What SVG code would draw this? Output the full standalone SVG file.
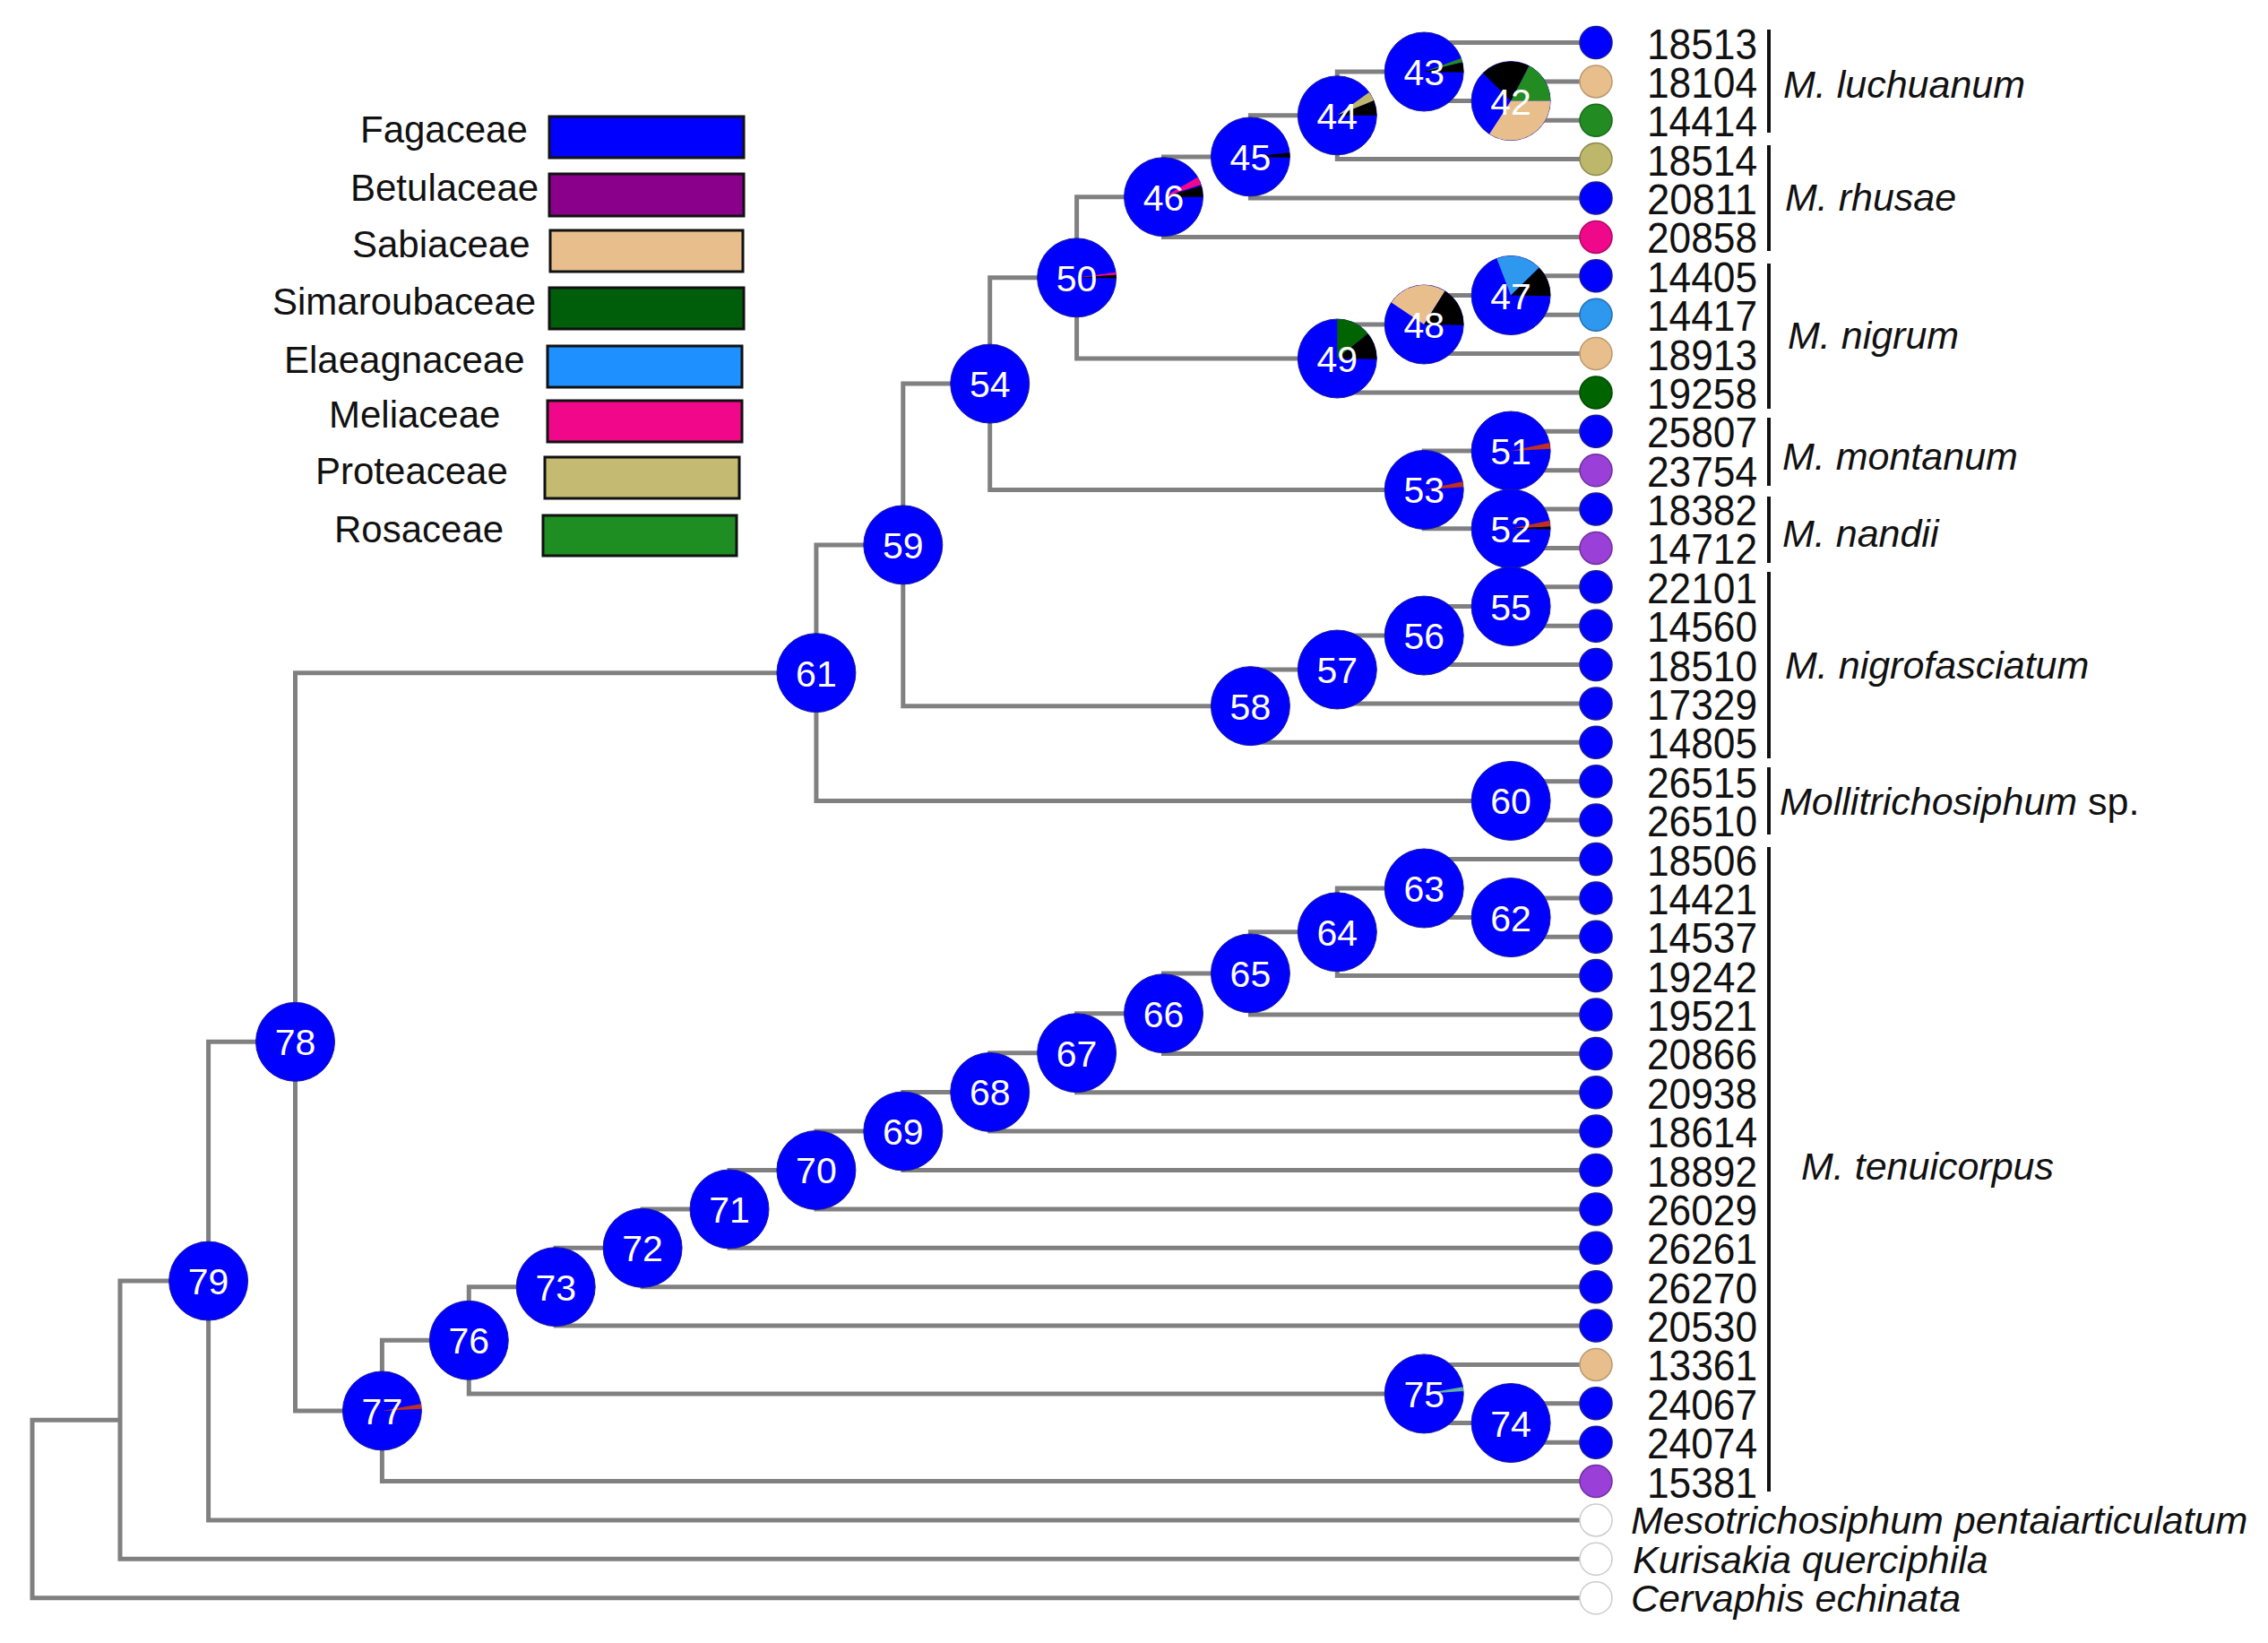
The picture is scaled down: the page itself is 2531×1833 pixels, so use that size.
<svg xmlns="http://www.w3.org/2000/svg" width="2531" height="1833" viewBox="0 0 2531 1833">
<style>
.br{fill:none;stroke:#808080;stroke-width:5;stroke-linejoin:miter}
.nd{fill:#0000FF;stroke:#1a1a9a;stroke-width:1}
.nl{font-family:"Liberation Sans",Arial,sans-serif;font-size:41px;fill:#ffffff;text-anchor:middle}
.tl{font-family:"Liberation Sans",Arial,sans-serif;font-size:48px;fill:#111111}
.sp{font-family:"Liberation Sans",Arial,sans-serif;font-size:43px;font-style:italic;fill:#111111}
.up{font-style:normal}
.lgt{font-family:"Liberation Sans",Arial,sans-serif;font-size:42px;fill:#111111}
.lgb{stroke:#111111;stroke-width:3}
.bar{stroke:#111111;stroke-width:4}
.lf{stroke-width:1.5}
.cB{fill:#0000FF;stroke:#1a1a9a}
.cT{fill:#E8BE8C;stroke:#b89a70}
.cG{fill:#228B22;stroke:#1a6a1a}
.cK{fill:#BDB76B;stroke:#8f8a50}
.cP{fill:#F0088A;stroke:#b00868}
.cL{fill:#2E97EE;stroke:#2070b0}
.cD{fill:#006400;stroke:#004a00}
.cV{fill:#9A3FD8;stroke:#7030a0}
.cW{fill:#ffffff;stroke:#cccccc}
</style>

<g id="legend">
<rect class="lgb" x="613" y="130" width="217" height="46" fill="#0000FF"/>
<text class="lgt" x="402" y="159">Fagaceae</text>
<rect class="lgb" x="613" y="194" width="217" height="47" fill="#8B008B"/>
<text class="lgt" x="391" y="224">Betulaceae</text>
<rect class="lgb" x="614" y="257" width="215" height="46" fill="#E8BF8C"/>
<text class="lgt" x="393" y="287">Sabiaceae</text>
<rect class="lgb" x="613" y="321" width="217" height="46" fill="#005E0A"/>
<text class="lgt" x="304" y="351">Simaroubaceae</text>
<rect class="lgb" x="611" y="386" width="217" height="46" fill="#1E90FF"/>
<text class="lgt" x="317" y="416">Elaeagnaceae</text>
<rect class="lgb" x="611" y="447" width="217" height="46" fill="#F0078A"/>
<text class="lgt" x="367" y="477">Meliaceae</text>
<rect class="lgb" x="608" y="510" width="217" height="46" fill="#C4BA72"/>
<text class="lgt" x="352" y="540">Proteaceae</text>
<rect class="lgb" x="606" y="575" width="216" height="45" fill="#1F8E22"/>
<text class="lgt" x="373" y="605">Rosaceae</text>
</g>

<g id="connectors">
<path class="br" d="M1781 90.9 H1686.1 V134.3 H1781"/>
<path class="br" d="M1781 47.5 H1589.2 V112.6 H1686.1"/>
<path class="br" d="M1589.2 80.0 H1492.3 V177.6 H1781"/>
<path class="br" d="M1492.3 128.8 H1395.4 V221.0 H1781"/>
<path class="br" d="M1395.4 174.9 H1298.5 V264.4 H1781"/>
<path class="br" d="M1781 307.8 H1686.1 V351.2 H1781"/>
<path class="br" d="M1686.1 329.5 H1589.2 V394.5 H1781"/>
<path class="br" d="M1589.2 362.0 H1492.3 V437.9 H1781"/>
<path class="br" d="M1298.5 219.7 H1201.6 V400.0 H1492.3"/>
<path class="br" d="M1781 481.3 H1686.1 V524.7 H1781"/>
<path class="br" d="M1781 568.1 H1686.1 V611.4 H1781"/>
<path class="br" d="M1686.1 503.0 H1589.2 V589.8 H1686.1"/>
<path class="br" d="M1201.6 309.85 H1104.7 V546.4 H1589.2"/>
<path class="br" d="M1781 654.8 H1686.1 V698.2 H1781"/>
<path class="br" d="M1686.1 676.5 H1589.2 V741.6 H1781"/>
<path class="br" d="M1589.2 709.05 H1492.3 V785.0 H1781"/>
<path class="br" d="M1492.3 747.0 H1395.4 V828.3 H1781"/>
<path class="br" d="M1104.7 428.1 H1007.8 V787.65 H1395.4"/>
<path class="br" d="M1781 871.7 H1686.1 V915.1 H1781"/>
<path class="br" d="M1007.8 607.9 H910.9 V893.4 H1686.1"/>
<path class="br" d="M1781 1001.9 H1686.1 V1045.2 H1781"/>
<path class="br" d="M1781 958.5 H1589.2 V1023.55 H1686.1"/>
<path class="br" d="M1589.2 991.0 H1492.3 V1088.6 H1781"/>
<path class="br" d="M1492.3 1039.8 H1395.4 V1132.0 H1781"/>
<path class="br" d="M1395.4 1085.9 H1298.5 V1175.4 H1781"/>
<path class="br" d="M1298.5 1130.65 H1201.6 V1218.8 H1781"/>
<path class="br" d="M1201.6 1174.7 H1104.7 V1262.1 H1781"/>
<path class="br" d="M1104.7 1218.4 H1007.8 V1305.5 H1781"/>
<path class="br" d="M1007.8 1262.0 H910.9 V1348.9 H1781"/>
<path class="br" d="M910.9 1305.45 H814.0 V1392.3 H1781"/>
<path class="br" d="M814.0 1348.9 H717.1 V1435.7 H1781"/>
<path class="br" d="M717.1 1392.3 H620.2 V1479.0 H1781"/>
<path class="br" d="M1781 1565.8 H1686.1 V1609.2 H1781"/>
<path class="br" d="M1781 1522.4 H1589.2 V1587.5 H1686.1"/>
<path class="br" d="M620.2 1435.65 H523.3 V1554.95 H1589.2"/>
<path class="br" d="M523.3 1495.3 H426.4 V1652.6 H1781"/>
<path class="br" d="M910.9 750.65 H329.5 V1573.95 H426.4"/>
<path class="br" d="M329.5 1162.3 H232.6 V1695.9 H1781"/>
<path class="br" d="M232.6 1429.1 H134 V1739.3 H1781"/>
<path class="br" d="M134 1584.2 H36 V1782.7 H1781"/>
</g>

<g id="internal-nodes">
<g id="n42"><circle cx="1686.1" cy="112.6" r="44" class="nd"/>
<path d="M1686.1 112.6 L1655.0 81.5 A44 44 0 0 1 1706.4 73.6 Z" fill="#000"/>
<path d="M1686.1 112.6 L1706.4 73.6 A44 44 0 0 1 1730.1 112.6 Z" fill="#228B22"/>
<path d="M1686.1 112.6 L1730.1 112.6 A44 44 0 0 1 1662.1 149.5 Z" fill="#E8BE8C"/>
<text class="nl" x="1686.1" y="127.6">42</text></g>
<g id="n43"><circle cx="1589.2" cy="80.0" r="44" class="nd"/>
<path d="M1589.2 80.0 L1630.5 65.0 A44 44 0 0 1 1631.9 69.4 Z" fill="#228B22"/>
<path d="M1589.2 80.0 L1631.9 69.4 A44 44 0 0 1 1633.2 80.8 Z" fill="#000"/>
<text class="nl" x="1589.2" y="95.0">43</text></g>
<g id="n44"><circle cx="1492.3" cy="128.8" r="44" class="nd"/>
<path d="M1492.3 128.8 L1527.9 102.9 A44 44 0 0 1 1533.1 112.3 Z" fill="#BDB76B"/>
<path d="M1492.3 128.8 L1533.1 112.3 A44 44 0 0 1 1536.3 128.8 Z" fill="#000"/>
<text class="nl" x="1492.3" y="143.8">44</text></g>
<g id="n45"><circle cx="1395.4" cy="174.9" r="44" class="nd"/>
<path d="M1395.4 174.9 L1439.2 170.3 A44 44 0 0 1 1439.4 175.7 Z" fill="#000"/>
<text class="nl" x="1395.4" y="189.9">45</text></g>
<g id="n46"><circle cx="1298.5" cy="219.7" r="44" class="nd"/>
<path d="M1298.5 219.7 L1336.6 197.7 A44 44 0 0 1 1340.3 206.1 Z" fill="#F0088A"/>
<path d="M1298.5 219.7 L1340.8 207.6 A44 44 0 0 1 1342.5 219.7 Z" fill="#000"/>
<text class="nl" x="1298.5" y="234.7">46</text></g>
<g id="n47"><circle cx="1686.1" cy="329.5" r="44" class="nd"/>
<path d="M1686.1 329.5 L1670.3 288.4 A44 44 0 0 1 1717.5 298.7 Z" fill="#2E97EE"/>
<path d="M1686.1 329.5 L1717.5 298.7 A44 44 0 0 1 1730.1 330.3 Z" fill="#000"/>
<text class="nl" x="1686.1" y="344.5">47</text></g>
<g id="n48"><circle cx="1589.2" cy="362.0" r="44" class="nd"/>
<path d="M1589.2 362.0 L1552.7 337.4 A44 44 0 0 1 1612.5 324.7 Z" fill="#E8BE8C"/>
<path d="M1589.2 362.0 L1612.5 324.7 A44 44 0 0 1 1633.2 362.8 Z" fill="#000"/>
<text class="nl" x="1589.2" y="377.0">48</text></g>
<g id="n49"><circle cx="1492.3" cy="400.0" r="44" class="nd"/>
<path d="M1492.3 400.0 L1492.3 356.0 A44 44 0 0 1 1526.5 372.3 Z" fill="#006400"/>
<path d="M1492.3 400.0 L1526.5 372.3 A44 44 0 0 1 1536.3 400.8 Z" fill="#000"/>
<text class="nl" x="1492.3" y="415.0">49</text></g>
<g id="n50"><circle cx="1201.6" cy="309.85" r="44" class="nd"/>
<path d="M1201.6 309.85 L1245.2 303.7 A44 44 0 0 1 1245.5 306.8 Z" fill="#F0088A"/>
<path d="M1201.6 309.85 L1245.5 306.8 A44 44 0 0 1 1245.6 310.6 Z" fill="#000"/>
<text class="nl" x="1201.6" y="324.85">50</text></g>
<g id="n51"><circle cx="1686.1" cy="503.0" r="44" class="nd"/>
<path d="M1686.1 503.0 L1729.1 493.9 A44 44 0 0 1 1730.0 500.7 Z" fill="#C03020"/>
<text class="nl" x="1686.1" y="518.0">51</text></g>
<g id="n53"><circle cx="1589.2" cy="546.4" r="44" class="nd"/>
<path d="M1589.2 546.4 L1632.2 537.3 A44 44 0 0 1 1633.1 543.3 Z" fill="#C03020"/>
<text class="nl" x="1589.2" y="561.4">53</text></g>
<g id="n52"><circle cx="1686.1" cy="589.8" r="44" class="nd"/>
<path d="M1686.1 589.8 L1729.1 580.7 A44 44 0 0 1 1730.0 587.5 Z" fill="#C03020"/>
<path d="M1686.1 589.8 L1730.0 587.5 A44 44 0 0 1 1730.1 590.6 Z" fill="#000"/>
<text class="nl" x="1686.1" y="604.8">52</text></g>
<g id="n54"><circle cx="1104.7" cy="428.1" r="44" class="nd"/><text class="nl" x="1104.7" y="443.1">54</text></g>
<g id="n55"><circle cx="1686.1" cy="676.5" r="44" class="nd"/><text class="nl" x="1686.1" y="691.5">55</text></g>
<g id="n56"><circle cx="1589.2" cy="709.05" r="44" class="nd"/><text class="nl" x="1589.2" y="724.05">56</text></g>
<g id="n57"><circle cx="1492.3" cy="747.0" r="44" class="nd"/><text class="nl" x="1492.3" y="762.0">57</text></g>
<g id="n58"><circle cx="1395.4" cy="787.65" r="44" class="nd"/><text class="nl" x="1395.4" y="802.65">58</text></g>
<g id="n59"><circle cx="1007.8" cy="607.9" r="44" class="nd"/><text class="nl" x="1007.8" y="622.9">59</text></g>
<g id="n60"><circle cx="1686.1" cy="893.4" r="44" class="nd"/><text class="nl" x="1686.1" y="908.4">60</text></g>
<g id="n61"><circle cx="910.9" cy="750.65" r="44" class="nd"/><text class="nl" x="910.9" y="765.65">61</text></g>
<g id="n62"><circle cx="1686.1" cy="1023.55" r="44" class="nd"/><text class="nl" x="1686.1" y="1038.55">62</text></g>
<g id="n63"><circle cx="1589.2" cy="991.0" r="44" class="nd"/><text class="nl" x="1589.2" y="1006.0">63</text></g>
<g id="n64"><circle cx="1492.3" cy="1039.8" r="44" class="nd"/><text class="nl" x="1492.3" y="1054.8">64</text></g>
<g id="n65"><circle cx="1395.4" cy="1085.9" r="44" class="nd"/><text class="nl" x="1395.4" y="1100.9">65</text></g>
<g id="n66"><circle cx="1298.5" cy="1130.65" r="44" class="nd"/><text class="nl" x="1298.5" y="1145.65">66</text></g>
<g id="n67"><circle cx="1201.6" cy="1174.7" r="44" class="nd"/><text class="nl" x="1201.6" y="1189.7">67</text></g>
<g id="n68"><circle cx="1104.7" cy="1218.4" r="44" class="nd"/><text class="nl" x="1104.7" y="1233.4">68</text></g>
<g id="n69"><circle cx="1007.8" cy="1262.0" r="44" class="nd"/><text class="nl" x="1007.8" y="1277.0">69</text></g>
<g id="n70"><circle cx="910.9" cy="1305.45" r="44" class="nd"/><text class="nl" x="910.9" y="1320.45">70</text></g>
<g id="n71"><circle cx="814.0" cy="1348.9" r="44" class="nd"/><text class="nl" x="814.0" y="1363.9">71</text></g>
<g id="n72"><circle cx="717.1" cy="1392.3" r="44" class="nd"/><text class="nl" x="717.1" y="1407.3">72</text></g>
<g id="n73"><circle cx="620.2" cy="1435.65" r="44" class="nd"/><text class="nl" x="620.2" y="1450.65">73</text></g>
<g id="n75"><circle cx="1589.2" cy="1554.95" r="44" class="nd"/>
<path d="M1589.2 1554.95 L1632.5 1547.3 A44 44 0 0 1 1633.1 1551.9 Z" fill="#5FB0A0"/>
<text class="nl" x="1589.2" y="1569.95">75</text></g>
<g id="n74"><circle cx="1686.1" cy="1587.5" r="44" class="nd"/><text class="nl" x="1686.1" y="1602.5">74</text></g>
<g id="n76"><circle cx="523.3" cy="1495.3" r="44" class="nd"/><text class="nl" x="523.3" y="1510.3">76</text></g>
<g id="n77"><circle cx="426.4" cy="1573.95" r="44" class="nd"/>
<path d="M426.4 1573.95 L469.7 1566.3 A44 44 0 0 1 470.3 1571.65 Z" fill="#C03020"/>
<text class="nl" x="426.4" y="1588.95">77</text></g>
<g id="n78"><circle cx="329.5" cy="1162.3" r="44" class="nd"/><text class="nl" x="329.5" y="1177.3">78</text></g>
<g id="n79"><circle cx="232.6" cy="1429.1" r="44" class="nd"/><text class="nl" x="232.6" y="1444.1">79</text></g>
</g>

<g id="leaves">
<g id="t18513"><circle class="lf cB" cx="1781" cy="47.5" r="18"/><text class="tl" x="1838" y="65.5" textLength="123" lengthAdjust="spacingAndGlyphs">18513</text></g>
<g id="t18104"><circle class="lf cT" cx="1781" cy="90.9" r="18"/><text class="tl" x="1838" y="108.9" textLength="123" lengthAdjust="spacingAndGlyphs">18104</text></g>
<g id="t14414"><circle class="lf cG" cx="1781" cy="134.3" r="18"/><text class="tl" x="1838" y="152.3" textLength="123" lengthAdjust="spacingAndGlyphs">14414</text></g>
<g id="t18514"><circle class="lf cK" cx="1781" cy="177.6" r="18"/><text class="tl" x="1838" y="195.6" textLength="123" lengthAdjust="spacingAndGlyphs">18514</text></g>
<g id="t20811"><circle class="lf cB" cx="1781" cy="221.0" r="18"/><text class="tl" x="1838" y="239.0" textLength="123" lengthAdjust="spacingAndGlyphs">20811</text></g>
<g id="t20858"><circle class="lf cP" cx="1781" cy="264.4" r="18"/><text class="tl" x="1838" y="282.4" textLength="123" lengthAdjust="spacingAndGlyphs">20858</text></g>
<g id="t14405"><circle class="lf cB" cx="1781" cy="307.8" r="18"/><text class="tl" x="1838" y="325.8" textLength="123" lengthAdjust="spacingAndGlyphs">14405</text></g>
<g id="t14417"><circle class="lf cL" cx="1781" cy="351.2" r="18"/><text class="tl" x="1838" y="369.2" textLength="123" lengthAdjust="spacingAndGlyphs">14417</text></g>
<g id="t18913"><circle class="lf cT" cx="1781" cy="394.5" r="18"/><text class="tl" x="1838" y="412.5" textLength="123" lengthAdjust="spacingAndGlyphs">18913</text></g>
<g id="t19258"><circle class="lf cD" cx="1781" cy="437.9" r="18"/><text class="tl" x="1838" y="455.9" textLength="123" lengthAdjust="spacingAndGlyphs">19258</text></g>
<g id="t25807"><circle class="lf cB" cx="1781" cy="481.3" r="18"/><text class="tl" x="1838" y="499.3" textLength="123" lengthAdjust="spacingAndGlyphs">25807</text></g>
<g id="t23754"><circle class="lf cV" cx="1781" cy="524.7" r="18"/><text class="tl" x="1838" y="542.7" textLength="123" lengthAdjust="spacingAndGlyphs">23754</text></g>
<g id="t18382"><circle class="lf cB" cx="1781" cy="568.1" r="18"/><text class="tl" x="1838" y="586.1" textLength="123" lengthAdjust="spacingAndGlyphs">18382</text></g>
<g id="t14712"><circle class="lf cV" cx="1781" cy="611.4" r="18"/><text class="tl" x="1838" y="629.4" textLength="123" lengthAdjust="spacingAndGlyphs">14712</text></g>
<g id="t22101"><circle class="lf cB" cx="1781" cy="654.8" r="18"/><text class="tl" x="1838" y="672.8" textLength="123" lengthAdjust="spacingAndGlyphs">22101</text></g>
<g id="t14560"><circle class="lf cB" cx="1781" cy="698.2" r="18"/><text class="tl" x="1838" y="716.2" textLength="123" lengthAdjust="spacingAndGlyphs">14560</text></g>
<g id="t18510"><circle class="lf cB" cx="1781" cy="741.6" r="18"/><text class="tl" x="1838" y="759.6" textLength="123" lengthAdjust="spacingAndGlyphs">18510</text></g>
<g id="t17329"><circle class="lf cB" cx="1781" cy="785.0" r="18"/><text class="tl" x="1838" y="803.0" textLength="123" lengthAdjust="spacingAndGlyphs">17329</text></g>
<g id="t14805"><circle class="lf cB" cx="1781" cy="828.3" r="18"/><text class="tl" x="1838" y="846.3" textLength="123" lengthAdjust="spacingAndGlyphs">14805</text></g>
<g id="t26515"><circle class="lf cB" cx="1781" cy="871.7" r="18"/><text class="tl" x="1838" y="889.7" textLength="123" lengthAdjust="spacingAndGlyphs">26515</text></g>
<g id="t26510"><circle class="lf cB" cx="1781" cy="915.1" r="18"/><text class="tl" x="1838" y="933.1" textLength="123" lengthAdjust="spacingAndGlyphs">26510</text></g>
<g id="t18506"><circle class="lf cB" cx="1781" cy="958.5" r="18"/><text class="tl" x="1838" y="976.5" textLength="123" lengthAdjust="spacingAndGlyphs">18506</text></g>
<g id="t14421"><circle class="lf cB" cx="1781" cy="1001.9" r="18"/><text class="tl" x="1838" y="1019.9" textLength="123" lengthAdjust="spacingAndGlyphs">14421</text></g>
<g id="t14537"><circle class="lf cB" cx="1781" cy="1045.2" r="18"/><text class="tl" x="1838" y="1063.2" textLength="123" lengthAdjust="spacingAndGlyphs">14537</text></g>
<g id="t19242"><circle class="lf cB" cx="1781" cy="1088.6" r="18"/><text class="tl" x="1838" y="1106.6" textLength="123" lengthAdjust="spacingAndGlyphs">19242</text></g>
<g id="t19521"><circle class="lf cB" cx="1781" cy="1132.0" r="18"/><text class="tl" x="1838" y="1150.0" textLength="123" lengthAdjust="spacingAndGlyphs">19521</text></g>
<g id="t20866"><circle class="lf cB" cx="1781" cy="1175.4" r="18"/><text class="tl" x="1838" y="1193.4" textLength="123" lengthAdjust="spacingAndGlyphs">20866</text></g>
<g id="t20938"><circle class="lf cB" cx="1781" cy="1218.8" r="18"/><text class="tl" x="1838" y="1236.8" textLength="123" lengthAdjust="spacingAndGlyphs">20938</text></g>
<g id="t18614"><circle class="lf cB" cx="1781" cy="1262.1" r="18"/><text class="tl" x="1838" y="1280.1" textLength="123" lengthAdjust="spacingAndGlyphs">18614</text></g>
<g id="t18892"><circle class="lf cB" cx="1781" cy="1305.5" r="18"/><text class="tl" x="1838" y="1323.5" textLength="123" lengthAdjust="spacingAndGlyphs">18892</text></g>
<g id="t26029"><circle class="lf cB" cx="1781" cy="1348.9" r="18"/><text class="tl" x="1838" y="1366.9" textLength="123" lengthAdjust="spacingAndGlyphs">26029</text></g>
<g id="t26261"><circle class="lf cB" cx="1781" cy="1392.3" r="18"/><text class="tl" x="1838" y="1410.3" textLength="123" lengthAdjust="spacingAndGlyphs">26261</text></g>
<g id="t26270"><circle class="lf cB" cx="1781" cy="1435.7" r="18"/><text class="tl" x="1838" y="1453.7" textLength="123" lengthAdjust="spacingAndGlyphs">26270</text></g>
<g id="t20530"><circle class="lf cB" cx="1781" cy="1479.0" r="18"/><text class="tl" x="1838" y="1497.0" textLength="123" lengthAdjust="spacingAndGlyphs">20530</text></g>
<g id="t13361"><circle class="lf cT" cx="1781" cy="1522.4" r="18"/><text class="tl" x="1838" y="1540.4" textLength="123" lengthAdjust="spacingAndGlyphs">13361</text></g>
<g id="t24067"><circle class="lf cB" cx="1781" cy="1565.8" r="18"/><text class="tl" x="1838" y="1583.8" textLength="123" lengthAdjust="spacingAndGlyphs">24067</text></g>
<g id="t24074"><circle class="lf cB" cx="1781" cy="1609.2" r="18"/><text class="tl" x="1838" y="1627.2" textLength="123" lengthAdjust="spacingAndGlyphs">24074</text></g>
<g id="t15381"><circle class="lf cV" cx="1781" cy="1652.6" r="18"/><text class="tl" x="1838" y="1670.6" textLength="123" lengthAdjust="spacingAndGlyphs">15381</text></g>
<g id="t-meso"><circle class="lf cW" cx="1781" cy="1695.9" r="18"/><text class="sp" x="1820" y="1711">Mesotrichosiphum pentaiarticulatum</text></g>
<g id="t-kuri"><circle class="lf cW" cx="1781" cy="1739.3" r="18"/><text class="sp" x="1822" y="1754.5">Kurisakia querciphila</text></g>
<g id="t-cerv"><circle class="lf cW" cx="1781" cy="1782.7" r="18"/><text class="sp" x="1820" y="1798">Cervaphis echinata</text></g>
</g>

<g id="clades">
<line class="bar" x1="1974" y1="33" x2="1974" y2="148"/>
<text class="sp" x="1990" y="109">M. luchuanum</text>
<line class="bar" x1="1974" y1="162" x2="1974" y2="280"/>
<text class="sp" x="1992" y="235">M. rhusae</text>
<line class="bar" x1="1974" y1="294" x2="1974" y2="456"/>
<text class="sp" x="1995" y="389">M. nigrum</text>
<line class="bar" x1="1974" y1="466" x2="1974" y2="542"/>
<text class="sp" x="1989" y="524">M. montanum</text>
<line class="bar" x1="1974" y1="554" x2="1974" y2="628"/>
<text class="sp" x="1989" y="610">M. nandii</text>
<line class="bar" x1="1974" y1="638" x2="1974" y2="846"/>
<text class="sp" x="1992" y="757">M. nigrofasciatum</text>
<line class="bar" x1="1974" y1="856" x2="1974" y2="931"/>
<text class="sp" x="1986" y="909">Mollitrichosiphum<tspan class="up"> sp.</tspan></text>
<line class="bar" x1="1974" y1="945" x2="1974" y2="1664"/>
<text class="sp" x="2010" y="1316">M. tenuicorpus</text>
</g>
</svg>
